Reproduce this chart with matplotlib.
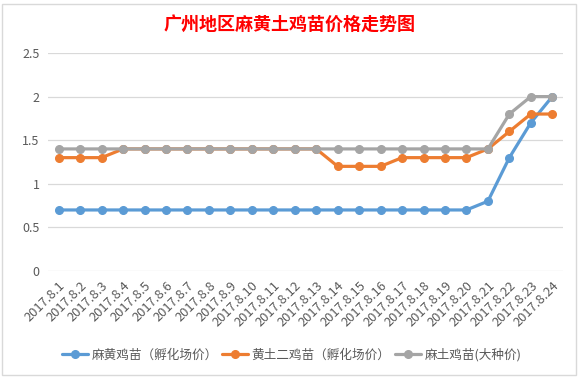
import matplotlib
matplotlib.use("Agg")
import matplotlib.pyplot as plt
from matplotlib.patches import Rectangle

plt.rcParams['font.family'] = ['Noto Sans CJK SC', 'DejaVu Sans']

title = "广州地区麻黄土鸡苗价格走势图"
dates = ["2017.8.%d" % d for d in range(1, 25)]
series_names = ["麻黄鸡苗（孵化场价）", "黄土二鸡苗（孵化场价）", "麻土鸡苗(大种价)"]
mahuang = [0.7, 0.7, 0.7, 0.7, 0.7, 0.7, 0.7, 0.7, 0.7, 0.7, 0.7, 0.7,
           0.7, 0.7, 0.7, 0.7, 0.7, 0.7, 0.7, 0.7, 0.8, 1.3, 1.7, 2.0]
huangtu = [1.3, 1.3, 1.3, 1.4, 1.4, 1.4, 1.4, 1.4, 1.4, 1.4, 1.4, 1.4,
           1.4, 1.2, 1.2, 1.2, 1.3, 1.3, 1.3, 1.3, 1.4, 1.6, 1.8, 1.8]
matu = [1.4, 1.4, 1.4, 1.4, 1.4, 1.4, 1.4, 1.4, 1.4, 1.4, 1.4, 1.4,
        1.4, 1.4, 1.4, 1.4, 1.4, 1.4, 1.4, 1.4, 1.4, 1.8, 2.0, 2.0]
y_ticks = [0, 0.5, 1, 1.5, 2, 2.5]
colors = ["#5B9BD5", "#ED7D31", "#A5A5A5"]

W, H = 583, 379
fig = plt.figure(figsize=(W / 100, H / 100), dpi=100)

# chart area border
fig.patches.append(Rectangle((2 / W, 4 / H), 574 / W, 371 / H, transform=fig.transFigure,
                             fill=False, edgecolor="#D9D9D9", linewidth=1.0))

ax = fig.add_axes([48 / W, 1 - 271 / H, 515 / W, 218 / H])
x = list(range(len(dates)))
for vals, name, c in zip([mahuang, huangtu, matu], series_names, colors):
    ax.plot(x, vals, color=c, lw=2.3, marker='o', markersize=5.5, label=name,
            solid_capstyle='round')

ax.set_xlim(-0.5, len(dates) - 0.5)
ax.set_ylim(0, 2.5)
ax.set_yticks(y_ticks)
ax.set_yticklabels([("%g" % v) for v in y_ticks], fontsize=9, color="#595959")
ax.set_xticks(x)
ax.set_xticklabels(dates, rotation=45, ha='right', rotation_mode='anchor',
                   fontsize=9.3, color="#595959")
ax.tick_params(axis='both', length=0, pad=6)
ax.grid(axis='y', color="#D9D9D9", lw=0.9)
ax.set_axisbelow(True)
for s in ax.spines.values():
    s.set_visible(False)

fig.text(0.497, 1 - 24 / H, title, ha='center', va='center', fontsize=13,
         color="#FF0000", fontweight='bold')

fig.legend(loc='center', bbox_to_anchor=(0.5, 1 - 355 / H), ncol=3, frameon=False,
           fontsize=9.1, labelcolor="#595959", handlelength=2.1, handletextpad=0.25,
           columnspacing=0.35, borderaxespad=0)

fig.savefig("out.png", dpi=100)
